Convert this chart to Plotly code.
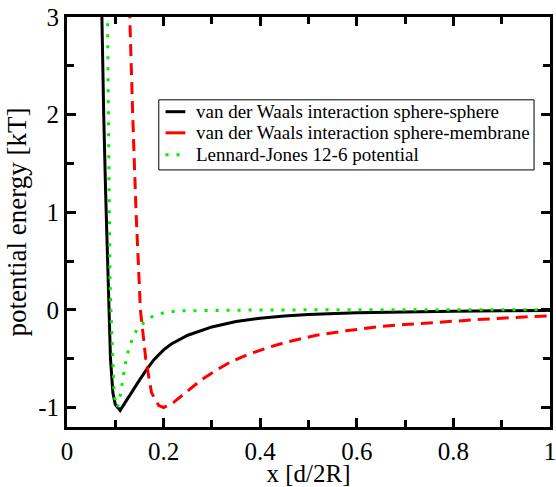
import plotly.graph_objects as go

# Sphere-sphere van der Waals (black, solid)
x_ss = [0.070, 0.072, 0.076, 0.080, 0.085, 0.090, 0.095, 0.100, 0.110, 0.120, 0.135,
        0.150, 0.165, 0.180, 0.200, 0.216, 0.250, 0.284, 0.300, 0.350, 0.400, 0.450,
        0.500, 0.600, 0.700, 0.800, 0.900, 1.000]
y_ss = [3.6, 3.0, 2.0, 1.2, 0.2, -0.5, -0.85, -0.97, -1.03, -0.95, -0.84,
        -0.72, -0.61, -0.51, -0.41, -0.35, -0.26, -0.20, -0.175, -0.12, -0.085, -0.062,
        -0.047, -0.03, -0.02, -0.013, -0.009, -0.007]

# Sphere-membrane van der Waals (red, dashed)
x_sm = [0.128, 0.130, 0.136, 0.143, 0.152, 0.163, 0.175, 0.190, 0.200, 0.220, 0.250,
        0.280, 0.312, 0.340, 0.373, 0.420, 0.455, 0.516, 0.577, 0.650, 0.700, 0.781,
        0.850, 0.900, 1.000]
y_sm = [3.5, 3.0, 2.0, 1.0, 0.0, -0.5, -0.85, -0.98, -1.00, -0.95, -0.83,
        -0.71, -0.61, -0.53, -0.46, -0.38, -0.33, -0.26, -0.215, -0.17, -0.15, -0.12,
        -0.10, -0.085, -0.06]

# Lennard-Jones 12-6 (green, dotted)
x_lj = [0.083, 0.084, 0.085, 0.087, 0.089, 0.091, 0.094, 0.097, 0.100, 0.104, 0.108,
        0.114, 0.120, 0.128, 0.138, 0.148, 0.169, 0.180, 0.200, 0.230, 0.300, 0.400,
        0.500, 0.600, 0.700, 0.800, 0.900, 1.000]
y_lj = [3.5, 3.0, 2.0, 1.0, 0.3, 0.0, -0.5, -0.8, -0.95, -1.00, -0.95,
        -0.76, -0.57, -0.40, -0.26, -0.18, -0.09, -0.06, -0.03, -0.01, -0.004, -0.001,
        0.0, 0.0, 0.0, 0.0, 0.0, 0.0]

names = ["van der Waals interaction sphere-sphere",
         "van der Waals interaction sphere-membrane",
         "Lennard-Jones 12-6 potential"]
colors = ["black", "#ff0000", "#00ee00"]
dashes = ["solid", "12px,7px", "3px,8px"]
legend_dashes = ["solid", "solid", "3px,8px"]

x_ticks = [0, 0.2, 0.4, 0.6, 0.8, 1]
x_labels = ["0", "0.2", "0.4", "0.6", "0.8", "1"]
y_ticks = [-1, 0, 1, 2, 3]
y_labels = ["-1", "0", "1", "2", "3"]

fig = go.Figure()
for xs, ys, nm, c, d in zip([x_ss, x_sm, x_lj], [y_ss, y_sm, y_lj], names, colors, dashes):
    fig.add_trace(go.Scatter(x=xs, y=ys, mode="lines", name=nm, showlegend=False,
                             line=dict(color=c, width=3, dash=d)))

font_family = "Liberation Serif, Times New Roman, serif"
axis_common = dict(showline=True, linecolor="black", linewidth=3, mirror="ticks",
                   ticks="inside", ticklen=9, tickwidth=3, tickcolor="black",
                   showgrid=False, zeroline=False, ticklabeloverflow="allow",
                   tickfont=dict(family=font_family, size=25, color="black"))

fig.update_xaxes(range=[0, 1], tickvals=x_ticks, ticktext=x_labels,
                 minor=dict(dtick=0.1, ticks="inside", ticklen=7, tickwidth=3, tickcolor="black"),
                 title=dict(text="x [d/2R]", font=dict(family=font_family, size=25, color="black"),
                            standoff=4),
                 **axis_common)
fig.update_yaxes(range=[-1.2, 3], tickvals=y_ticks, ticktext=y_labels,
                 minor=dict(dtick=0.5, ticks="inside", ticklen=7, tickwidth=3, tickcolor="black"),
                 title=dict(text="potential energy [kT]", font=dict(family=font_family, size=27, color="black"),
                            standoff=4),
                 **axis_common)

# Manual legend box (paper coordinates)
leg_x0, leg_x1, leg_y0, leg_y1 = 0.190, 0.967, 0.627, 0.798
row_y = [0.769, 0.7175, 0.664]
sample_x0, sample_x1, text_x = 0.204, 0.245, 0.263
shapes = [dict(type="rect", xref="paper", yref="paper", x0=leg_x0, x1=leg_x1, y0=leg_y0, y1=leg_y1,
               line=dict(color="black", width=1), fillcolor="white", layer="above")]
annotations = []
for ry, nm, c, d in zip(row_y, names, colors, legend_dashes):
    shapes.append(dict(type="line", xref="paper", yref="paper", x0=sample_x0, x1=sample_x1,
                       y0=ry, y1=ry, line=dict(color=c, width=3, dash=d), layer="above"))
    annotations.append(dict(xref="paper", yref="paper", x=text_x, y=ry, text=nm, showarrow=False,
                            xanchor="left", yanchor="middle",
                            font=dict(family=font_family, size=19, color="black")))

fig.update_layout(
    width=556, height=487,
    margin=dict(l=67, r=0, t=17, b=54),
    plot_bgcolor="white", paper_bgcolor="white",
    font=dict(family=font_family, color="black"),
    showlegend=False,
    shapes=shapes,
    annotations=annotations,
)

fig.write_html("out.html")
